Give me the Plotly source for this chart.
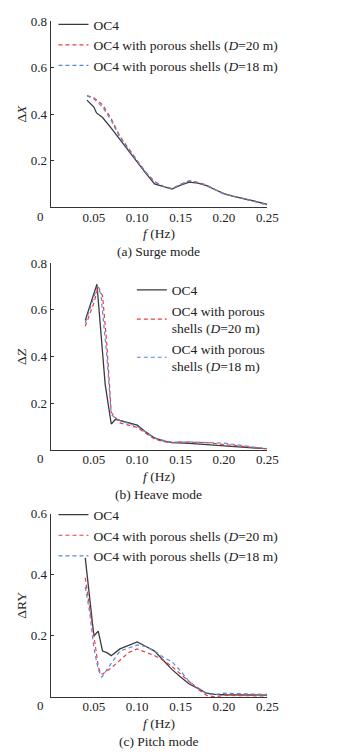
import plotly.graph_objects as go

# ---------------- data ----------------
# (a) Surge mode
fa_oc4 = [0.042, 0.05, 0.053, 0.06, 0.07, 0.08, 0.09, 0.10, 0.11, 0.12, 0.13, 0.14, 0.15, 0.16, 0.17, 0.18, 0.19, 0.20, 0.21, 0.22, 0.23, 0.24, 0.25]
a_oc4 = [0.46, 0.43, 0.405, 0.385, 0.34, 0.29, 0.24, 0.19, 0.145, 0.10, 0.09, 0.078, 0.095, 0.108, 0.103, 0.093, 0.075, 0.058, 0.048, 0.04, 0.03, 0.022, 0.012]
fa_ps = [0.042, 0.05, 0.06, 0.07, 0.08, 0.09, 0.10, 0.11, 0.12, 0.13, 0.14, 0.15, 0.16, 0.17, 0.18, 0.19, 0.20, 0.21, 0.22, 0.23, 0.24, 0.25]
a_d20 = [0.48, 0.47, 0.44, 0.38, 0.305, 0.25, 0.20, 0.15, 0.11, 0.09, 0.08, 0.098, 0.113, 0.107, 0.095, 0.075, 0.057, 0.048, 0.04, 0.03, 0.02, 0.008]
a_d18 = [0.478, 0.465, 0.43, 0.372, 0.30, 0.247, 0.197, 0.148, 0.108, 0.09, 0.08, 0.097, 0.114, 0.106, 0.094, 0.075, 0.057, 0.048, 0.04, 0.03, 0.021, 0.01]

# (b) Heave mode
fb_oc4 = [0.04, 0.0535, 0.063, 0.07, 0.075, 0.10, 0.11, 0.12, 0.13, 0.14, 0.16, 0.18, 0.20, 0.22, 0.25]
b_oc4 = [0.555, 0.71, 0.28, 0.11, 0.13, 0.105, 0.075, 0.05, 0.038, 0.03, 0.027, 0.022, 0.016, 0.012, 0.003]
fb_d20 = [0.04, 0.045, 0.05, 0.055, 0.06, 0.065, 0.07, 0.08, 0.09, 0.10, 0.11, 0.12, 0.13, 0.14, 0.15, 0.16, 0.18, 0.20, 0.22, 0.25]
b_d20 = [0.53, 0.58, 0.63, 0.70, 0.66, 0.45, 0.16, 0.115, 0.105, 0.095, 0.07, 0.045, 0.035, 0.03, 0.033, 0.032, 0.03, 0.022, 0.015, 0.003]
fb_d18 = [0.04, 0.045, 0.05, 0.054, 0.058, 0.065, 0.07, 0.075, 0.08, 0.10, 0.12, 0.14, 0.16, 0.18, 0.20, 0.22, 0.25]
b_d18 = [0.545, 0.60, 0.665, 0.70, 0.67, 0.40, 0.15, 0.135, 0.125, 0.10, 0.048, 0.032, 0.033, 0.032, 0.028, 0.018, 0.004]

# (c) Pitch mode
fc_oc4 = [0.04, 0.045, 0.05, 0.055, 0.06, 0.065, 0.07, 0.08, 0.09, 0.10, 0.11, 0.12, 0.13, 0.14, 0.15, 0.16, 0.17, 0.18, 0.19, 0.20, 0.25]
c_oc4 = [0.455, 0.33, 0.20, 0.215, 0.15, 0.145, 0.135, 0.157, 0.168, 0.18, 0.165, 0.15, 0.12, 0.09, 0.065, 0.042, 0.028, 0.012, 0.008, 0.007, 0.006]
fc_d20 = [0.04, 0.045, 0.05, 0.055, 0.058, 0.06, 0.065, 0.07, 0.08, 0.09, 0.10, 0.11, 0.12, 0.13, 0.14, 0.15, 0.16, 0.17, 0.18, 0.19, 0.20, 0.25]
c_d20 = [0.39, 0.30, 0.20, 0.10, 0.075, 0.075, 0.085, 0.095, 0.12, 0.145, 0.157, 0.145, 0.135, 0.12, 0.10, 0.075, 0.05, 0.025, 0.005, 0.0, 0.005, 0.003]
fc_d18 = [0.04, 0.045, 0.05, 0.055, 0.059, 0.062, 0.065, 0.07, 0.08, 0.09, 0.10, 0.11, 0.12, 0.13, 0.14, 0.15, 0.16, 0.17, 0.18, 0.19, 0.20, 0.25]
c_d18 = [0.36, 0.28, 0.16, 0.09, 0.065, 0.075, 0.09, 0.11, 0.15, 0.16, 0.17, 0.165, 0.15, 0.13, 0.115, 0.085, 0.05, 0.03, 0.01, 0.008, 0.012, 0.008]

x_tickvals = [0.05, 0.10, 0.15, 0.20, 0.25]
x_ticktext = ["0.05", "0.10", "0.15", "0.20", "0.25"]

name_oc4 = "OC4"
name_d20 = "OC4 with porous shells (<i>D</i>=20 m)"
name_d18 = "OC4 with porous shells (<i>D</i>=18 m)"
name_d20_b = "OC4 with porous<br>shells (<i>D</i>=20 m)"
name_d18_b = "OC4 with porous<br>shells (<i>D</i>=18 m)"

# ---------------- styling ----------------
W, H = 337, 752
OFFX = 8   # page body margin offset
OFFY = 10
FONT = "Liberation Serif, Times New Roman, serif"
TXT = "#222"
BLACK = "#3a3a3a"
RED = "#ee3b3b"
BLUE = "#5a8ad6"
DASH = "4px,3px"
FS = 13
FS_TXT = 13.5

def fx(v):
    return (v - OFFX) / W

def fy(v):
    return 1 - (v - OFFY) / H

x_dom = [fx(52), fx(276)]
panels = [
    dict(top=16, bot=204, ymax=0.8, yticks=[0.2, 0.4, 0.6, 0.8]),
    dict(top=260.7, bot=448.7, ymax=0.8, yticks=[0.2, 0.4, 0.6, 0.8]),
    dict(top=513.3, bot=698.3, ymax=0.6, yticks=[0.2, 0.4, 0.6]),
]

fig = go.Figure()

series = [
    [(fa_oc4, a_oc4, name_oc4, BLACK, "solid"), (fa_ps, a_d20, name_d20, RED, DASH), (fa_ps, a_d18, name_d18, BLUE, DASH)],
    [(fb_oc4, b_oc4, name_oc4, BLACK, "solid"), (fb_d20, b_d20, name_d20_b, RED, DASH), (fb_d18, b_d18, name_d18_b, BLUE, DASH)],
    [(fc_oc4, c_oc4, name_oc4, BLACK, "solid"), (fc_d20, c_d20, name_d20, RED, DASH), (fc_d18, c_d18, name_d18, BLUE, DASH)],
]

legend_names = ["legend", "legend2", "legend3"]
for i, group in enumerate(series):
    ax = "" if i == 0 else str(i + 1)
    for xs, ys, nm, col, dash in group:
        fig.add_trace(go.Scatter(
            x=xs, y=ys, mode="lines", name=nm,
            line=dict(color=col, width=1.3 if col == BLACK else 1.2, dash=dash),
            xaxis="x" + ax, yaxis="y" + ax, legend=legend_names[i],
        ))

layout = dict(
    width=W, height=H,
    margin=dict(l=0, r=0, t=0, b=0),
    paper_bgcolor="white", plot_bgcolor="white",
    font=dict(family=FONT, size=FS, color=TXT),
    showlegend=True,
)

annotations = []
y_titles = ["Δ<i>X</i>", "Δ<i>Z</i>", "ΔRY"]
captions = ["(a) Surge mode", "(b) Heave mode", "(c) Pitch mode"]
for i, p in enumerate(panels):
    ax = "" if i == 0 else str(i + 1)
    layout["xaxis" + ax] = dict(
        domain=x_dom, range=[0, 0.25], anchor="y" + ax,
        tickvals=x_tickvals, ticktext=x_ticktext,
        showline=True, linecolor="#333", linewidth=1,
        ticks="", showgrid=False, zeroline=False,
        ticklabelstandoff=-2,
        tickfont=dict(family=FONT, size=FS, color=TXT),
    )
    layout["yaxis" + ax] = dict(
        domain=[fy(p["bot"]), fy(p["top"])], range=[0, p["ymax"]], anchor="x" + ax,
        tickvals=p["yticks"], ticktext=[f"{v:.1f}" for v in p["yticks"]],
        showline=True, linecolor="#333", linewidth=1,
        ticks="inside", ticklen=3, tickcolor="#333",
        showgrid=False, zeroline=False,
        tickfont=dict(family=FONT, size=FS, color=TXT),
    )
    mid = (p["top"] + p["bot"]) / 2
    annotations.append(dict(text=y_titles[i], x=fx(22), y=fy(mid), xref="paper", yref="paper",
                            textangle=-90, showarrow=False, font=dict(family=FONT, size=FS_TXT, color=TXT),
                            xanchor="center", yanchor="middle"))
    annotations.append(dict(text="0", x=fx(47), y=fy(p["bot"] + 9), xref="paper", yref="paper",
                            showarrow=False, font=dict(family=FONT, size=FS, color=TXT),
                            xanchor="right", yanchor="middle"))
    annotations.append(dict(text="<i>f</i> (Hz)", x=fx(164), y=fy(p["bot"] + 27), xref="paper", yref="paper",
                            showarrow=False, font=dict(family=FONT, size=FS_TXT, color=TXT),
                            xanchor="center", yanchor="middle"))
    annotations.append(dict(text=captions[i], x=fx(164), y=fy(p["bot"] + 45), xref="paper", yref="paper",
                            showarrow=False, font=dict(family=FONT, size=FS_TXT, color=TXT),
                            xanchor="center", yanchor="middle"))

legend_common = dict(bgcolor="rgba(0,0,0,0)", borderwidth=0, tracegroupgap=0,
                     font=dict(family=FONT, size=FS_TXT, color=TXT),
                     xanchor="left", yanchor="top", itemwidth=30)
layout["legend"] = dict(legend_common, x=fx(55), y=fy(4))
layout["legend2"] = dict(legend_common, x=fx(136), y=fy(272))
layout["legend3"] = dict(legend_common, x=fx(55), y=fy(499))
layout["annotations"] = annotations

fig.update_layout(**layout)
fig.write_html("out.html")
